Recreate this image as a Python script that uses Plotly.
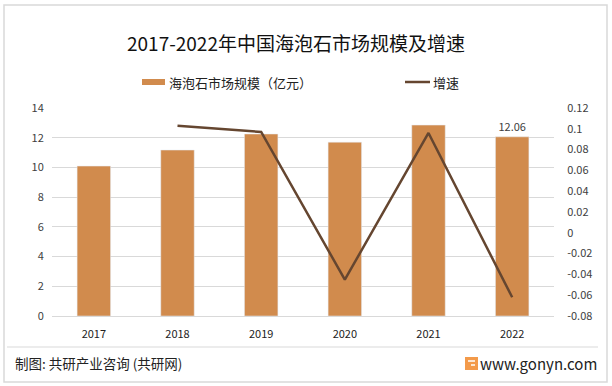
import plotly.graph_objects as go

years = ["2017", "2018", "2019", "2020", "2021", "2022"]
market_size = [10.09, 11.17, 12.25, 11.70, 12.85, 12.06]
bar_labels = ["", "", "", "", "", "12.06"]
growth_years = ["2018", "2019", "2020", "2021", "2022"]
growth = [0.103, 0.097, -0.045, 0.096, -0.062]
left_ticks = [0, 2, 4, 6, 8, 10, 12, 14]
right_ticks = [-0.08, -0.06, -0.04, -0.02, 0, 0.02, 0.04, 0.06, 0.08, 0.1, 0.12]
right_labels = ["-0.08", "-0.06", "-0.04", "-0.02", "0", "0.02", "0.04", "0.06", "0.08", "0.1", "0.12"]
bar_name = "海泡石市场规模（亿元）"
line_name = "增速"

FONT = "Noto Sans CJK SC"
BAR_C = "#D18B4D"
LINE_C = "#654630"
W, H = 612, 386
L, R, T, B = 52, 58, 108, 70
pw, ph = W - L - R, H - T - B

def px(x):
    return (x - L) / pw

def py(y):
    return (H - B - y) / ph

fig = go.Figure()
fig.add_trace(go.Bar(
    x=years, y=market_size, name=bar_name,
    marker_color=BAR_C, width=0.4,
    text=bar_labels, textposition="outside", cliponaxis=False,
    textfont=dict(size=11, color="#404040", family=FONT),
))
fig.add_trace(go.Scatter(
    x=growth_years, y=growth, name=line_name, yaxis="y2", mode="lines",
    line=dict(color=LINE_C, width=2.5),
))

fig.add_annotation(x=px(296), y=py(42), xref="paper", yref="paper", yanchor="middle",
                   text="2017-2022年中国海泡石市场规模及增速",
                   showarrow=False, font=dict(size=19, color="#111111", family=FONT))
# legend (drawn manually to match swatch shapes)
fig.add_annotation(x=px(167), y=py(82), xref="paper", yref="paper", xanchor="left", yanchor="middle",
                   text=bar_name, showarrow=False, font=dict(size=13, color="#222222", family=FONT))
fig.add_annotation(x=px(431), y=py(82), xref="paper", yref="paper", xanchor="left", yanchor="middle",
                   text=line_name, showarrow=False, font=dict(size=13, color="#222222", family=FONT))
fig.add_annotation(x=px(13), y=py(363), xref="paper", yref="paper", xanchor="left", yanchor="middle",
                   text="制图: 共研产业咨询 (共研网)", showarrow=False,
                   font=dict(size=13.5, color="#222222", family=FONT))
fig.add_annotation(x=px(599), y=py(363), xref="paper", yref="paper", xanchor="right", yanchor="middle",
                   text="www.gonyn.com", showarrow=False,
                   font=dict(size=15, color="#222222", family=FONT))

shapes = [
    dict(type="rect", xref="paper", yref="paper", x0=px(4), x1=px(607), y0=py(382), y1=py(5),
         line=dict(color="#D9D9D9", width=1.5), fillcolor="rgba(0,0,0,0)", layer="below"),
    dict(type="line", xref="paper", yref="paper", x0=px(7), x1=px(598), y0=py(347), y1=py(347),
         line=dict(color="#D9D9D9", width=1)),
    dict(type="rect", xref="paper", yref="paper", x0=px(465), x1=px(478), y0=py(370), y1=py(357),
         line=dict(width=0), fillcolor="#F39A4A"),
    dict(type="line", xref="paper", yref="paper", x0=px(468), x1=px(475), y0=py(361), y1=py(361),
         line=dict(color="white", width=1.5)),
    dict(type="line", xref="paper", yref="paper", x0=px(471), x1=px(475), y0=py(365), y1=py(365),
         line=dict(color="white", width=1.5)),
    dict(type="rect", xref="paper", yref="paper", x0=px(142), x1=px(165), y0=py(85), y1=py(79),
         line=dict(width=0), fillcolor=BAR_C),
    dict(type="line", xref="paper", yref="paper", x0=px(405), x1=px(430), y0=py(82), y1=py(82),
         line=dict(color=LINE_C, width=2.5)),
]
fig.update_layout(shapes=shapes)

fig.update_layout(
    width=W, height=H,
    margin=dict(l=L, r=R, t=T, b=B),
    paper_bgcolor="white", plot_bgcolor="white",
    font=dict(family=FONT, size=11, color="#404040"),
    showlegend=False,
    xaxis=dict(type="category", showgrid=False, showline=True, linecolor="#D9D9D9",
               ticks="outside", ticklen=8, tickcolor="rgba(0,0,0,0)",
               tickfont=dict(size=11, color="#222222")),
    yaxis=dict(range=[0, 14], tickvals=left_ticks, showgrid=True, gridcolor="#D9D9D9",
               zeroline=False, ticks="outside", ticklen=5, tickcolor="rgba(0,0,0,0)",
               tickfont=dict(size=11, color="#404040")),
    yaxis2=dict(range=[-0.08, 0.12], tickvals=right_ticks, ticktext=right_labels,
                overlaying="y", side="right", showgrid=False, zeroline=False,
                ticks="outside", ticklen=10, tickcolor="rgba(0,0,0,0)",
                tickfont=dict(size=11, color="#404040")),
)

fig.write_html("out.html", config={"displayModeBar": False},
               post_script="document.body.style.margin='0';")
